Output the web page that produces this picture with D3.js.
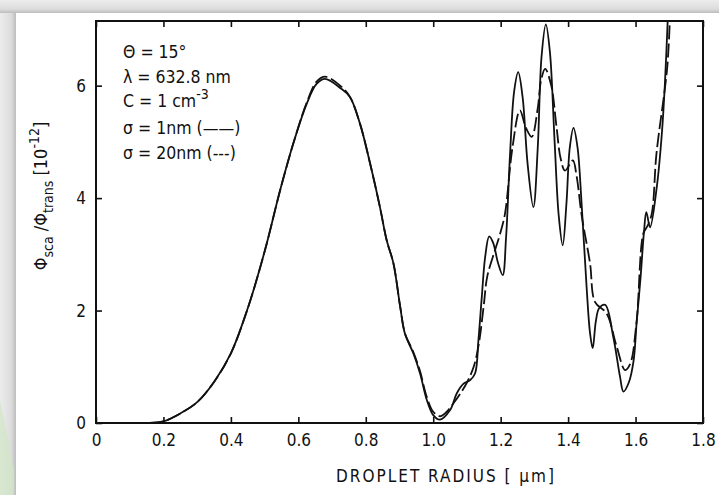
<!DOCTYPE html>
<html>
<head>
<meta charset="utf-8">
<script src="https://cdn.jsdelivr.net/npm/d3@7"></script>
<style>
  body { margin: 0; background: #fff; }
  text { font-family: "Liberation Sans Narrow", "DejaVu Sans Condensed", "Liberation Sans", Arial, sans-serif; fill: #111; }
</style>
</head>
<body>
<div id="plot"></div>
<script>
// droplet radius [um] and ratio [1e-12], sigma = 1 nm (solid)
const solidR = [0, 0.1, 0.15, 0.2, 0.25, 0.3, 0.35, 0.4, 0.45, 0.5, 0.546, 0.585, 0.625, 0.654, 0.679, 0.724, 0.753, 0.783, 0.813, 0.842, 0.862, 0.882, 0.902, 0.916, 0.941, 0.961, 0.981, 1.0, 1.02, 1.05, 1.07, 1.09, 1.109, 1.124, 1.134, 1.144, 1.154, 1.166, 1.178, 1.192, 1.206, 1.216, 1.228, 1.24, 1.252, 1.265, 1.28, 1.297, 1.31, 1.321, 1.334, 1.346, 1.36, 1.372, 1.384, 1.395, 1.405, 1.416, 1.428, 1.44, 1.455, 1.465, 1.473, 1.482, 1.492, 1.51, 1.534, 1.554, 1.564, 1.58, 1.594, 1.603, 1.615, 1.625, 1.632, 1.643, 1.663, 1.678, 1.687, 1.697]
const solidV = [0, 0, 0.0, 0.03, 0.17, 0.37, 0.73, 1.24, 2.04, 3.05, 4.14, 4.97, 5.68, 6.03, 6.12, 5.96, 5.8, 5.32, 4.61, 3.84, 3.25, 2.84, 2.07, 1.59, 1.24, 0.88, 0.41, 0.14, 0.06, 0.23, 0.53, 0.7, 0.76, 0.88, 1.47, 2.24, 2.95, 3.32, 3.2, 2.85, 2.63, 3.3, 4.8, 5.9, 6.24, 5.8, 4.6, 3.84, 4.9, 6.5, 7.09, 6.6, 5.0, 3.7, 3.16, 3.9, 4.9, 5.25, 4.9, 3.9, 2.4, 1.6, 1.33, 1.8, 2.04, 2.1, 1.53, 0.82, 0.56, 0.72, 1.1, 1.77, 2.6, 3.4, 3.75, 3.48, 4.2, 5.15, 6.03, 7.4]

// sigma = 20 nm (dashed)
const dashR = [0, 0.1, 0.15, 0.2, 0.25, 0.3, 0.35, 0.4, 0.45, 0.5, 0.546, 0.585, 0.625, 0.654, 0.679, 0.724, 0.753, 0.783, 0.813, 0.842, 0.862, 0.882, 0.902, 0.916, 0.941, 0.961, 0.98, 1.0, 1.02, 1.04, 1.06, 1.08, 1.1, 1.12, 1.135, 1.15, 1.16, 1.183, 1.2, 1.213, 1.235, 1.257, 1.275, 1.292, 1.31, 1.32, 1.332, 1.35, 1.365, 1.378, 1.391, 1.414, 1.425, 1.44, 1.465, 1.48, 1.514, 1.544, 1.569, 1.584, 1.603, 1.623, 1.635, 1.648, 1.662, 1.694, 1.703]
const dashV = [0, 0, 0.0, 0.03, 0.17, 0.37, 0.73, 1.24, 2.04, 3.05, 4.14, 4.97, 5.7, 6.07, 6.16, 6.0, 5.8, 5.32, 4.61, 3.84, 3.25, 2.84, 2.07, 1.6, 1.26, 0.92, 0.48, 0.2, 0.12, 0.2, 0.35, 0.52, 0.72, 1.0, 1.4, 2.1, 2.6, 3.07, 3.4, 3.73, 4.9, 5.56, 5.25, 5.09, 5.6, 6.1, 6.3, 6.0, 5.3, 4.7, 4.49, 4.67, 4.4, 3.7, 2.84, 2.15, 1.95, 1.36, 0.94, 1.05, 1.8, 3.37, 3.5, 3.72, 4.79, 6.33, 7.4]

const xTicks = [0, 0.2, 0.4, 0.6, 0.8, 1.0, 1.2, 1.4, 1.6, 1.8]
const yTicks = [0, 2, 4, 6]

const W = 719, H = 495
const m = {left: 96, right: 703, top: 21, bottom: 423}

const svg = d3.select("#plot").append("svg")
  .attr("width", W).attr("height", H)

// scanned page frame (grey strips top and left)
const defs = svg.append("defs")
const gl = defs.append("linearGradient").attr("id", "gl").attr("x1", 0).attr("x2", 1).attr("y1", 0).attr("y2", 0)
gl.append("stop").attr("offset", "0%").attr("stop-color", "#ececec")
gl.append("stop").attr("offset", "70%").attr("stop-color", "#dcdcdc")
gl.append("stop").attr("offset", "100%").attr("stop-color", "#bdbdbd")
const gt = defs.append("linearGradient").attr("id", "gt").attr("x1", 0).attr("x2", 0).attr("y1", 0).attr("y2", 1)
gt.append("stop").attr("offset", "0%").attr("stop-color", "#ececec")
gt.append("stop").attr("offset", "70%").attr("stop-color", "#dcdcdc")
gt.append("stop").attr("offset", "100%").attr("stop-color", "#bdbdbd")
defs.append("clipPath").attr("id", "clip").append("rect")
  .attr("x", m.left).attr("y", m.top).attr("width", m.right - m.left).attr("height", m.bottom - m.top)

svg.append("rect").attr("width", W).attr("height", H).attr("fill", "#fff")
svg.append("rect").attr("x", 0).attr("y", 0).attr("width", 16).attr("height", H).attr("fill", "url(#gl)")
svg.append("rect").attr("x", 0).attr("y", 0).attr("width", W).attr("height", 13).attr("fill", "url(#gt)")
svg.append("path").attr("d", "M0,400 L14,470 L14,495 L0,495 Z").attr("fill", "#cfe6c4").attr("opacity", 0.7)

const x = d3.scaleLinear().domain([0, 1.8]).range([m.left, m.right])
const y = d3.scaleLinear().domain([0, 7.15]).range([m.bottom, m.top])

// bottom axis, ticks inward
const xa = svg.append("g").attr("transform", `translate(0,${m.bottom})`)
  .call(d3.axisBottom(x).tickValues(xTicks).tickSize(-6).tickSizeOuter(0).tickPadding(18)
    .tickFormat(d => d === 0 ? "0" : d.toFixed(1)))
xa.select(".domain").remove()
xa.selectAll("line").attr("stroke", "#111").attr("stroke-width", 1.6)
xa.selectAll("text").style("font-size", "17px").attr("dy", "0.3em")

// top ticks
const xt = svg.append("g").attr("transform", `translate(0,${m.top})`)
  .call(d3.axisTop(x).tickValues(xTicks).tickSize(-6).tickSizeOuter(0).tickFormat(""))
xt.select(".domain").remove()
xt.selectAll("line").attr("stroke", "#111").attr("stroke-width", 1.6)

// left axis
const ya = svg.append("g").attr("transform", `translate(${m.left},0)`)
  .call(d3.axisLeft(y).tickValues(yTicks).tickSize(-6).tickSizeOuter(0).tickPadding(10))
ya.select(".domain").remove()
ya.selectAll("line").attr("stroke", "#111").attr("stroke-width", 1.6)
ya.selectAll("text").style("font-size", "17px")

// right ticks
const yr = svg.append("g").attr("transform", `translate(${m.right},0)`)
  .call(d3.axisRight(y).tickValues(yTicks).tickSize(-6).tickSizeOuter(0).tickFormat(""))
yr.select(".domain").remove()
yr.selectAll("line").attr("stroke", "#111").attr("stroke-width", 1.6)

// frame
svg.append("rect").attr("x", m.left).attr("y", m.top).attr("width", m.right - m.left).attr("height", m.bottom - m.top)
  .attr("fill", "none").attr("stroke", "#111").attr("stroke-width", 2)

const line = d3.line().x(d => x(d[0])).y(d => y(d[1])).curve(d3.curveCatmullRom.alpha(0.5))

const plot = svg.append("g").attr("clip-path", "url(#clip)")
plot.append("path")
  .datum(solidR.map((r, i) => [r, solidV[i]]))
  .attr("fill", "none").attr("stroke", "#111").attr("stroke-width", 1.8)
  .attr("d", line)
plot.append("path")
  .datum(dashR.map((r, i) => [r, dashV[i]]))
  .attr("fill", "none").attr("stroke", "#111").attr("stroke-width", 1.8)
  .attr("stroke-dasharray", "14,4")
  .attr("d", line)

// parameter block
const info = svg.append("g").attr("transform", "translate(123,0)").style("font-size", "17.5px")
info.append("text").attr("y", 58).text("Θ = 15°")
info.append("text").attr("y", 83).text("λ = 632.8 nm")
const c = info.append("text").attr("y", 107).text("C = 1 cm")
c.append("tspan").attr("dy", -8).style("font-size", "14px").text("-3")
info.append("text").attr("y", 134).text("σ = 1nm (——)")
info.append("text").attr("y", 159).text("σ = 20nm (---)")

// axis titles
svg.append("text").attr("x", 446).attr("y", 482).attr("text-anchor", "middle")
  .style("font-size", "17px").style("letter-spacing", "2px")
  .text("DROPLET RADIUS  [ μm]")

const yl = svg.append("text").attr("transform", "translate(47,196) rotate(-90)")
  .attr("text-anchor", "middle").style("font-size", "18px")
yl.append("tspan").text("Φ")
yl.append("tspan").attr("dy", 6).style("font-size", "14px").text("sca")
yl.append("tspan").attr("dy", -6).text(" /Φ")
yl.append("tspan").attr("dy", 6).style("font-size", "14px").text("trans")
yl.append("tspan").attr("dy", -6).text(" [10")
yl.append("tspan").attr("dy", -8).style("font-size", "14px").text("-12")
yl.append("tspan").attr("dy", 8).text("]")
</script>
</body>
</html>
